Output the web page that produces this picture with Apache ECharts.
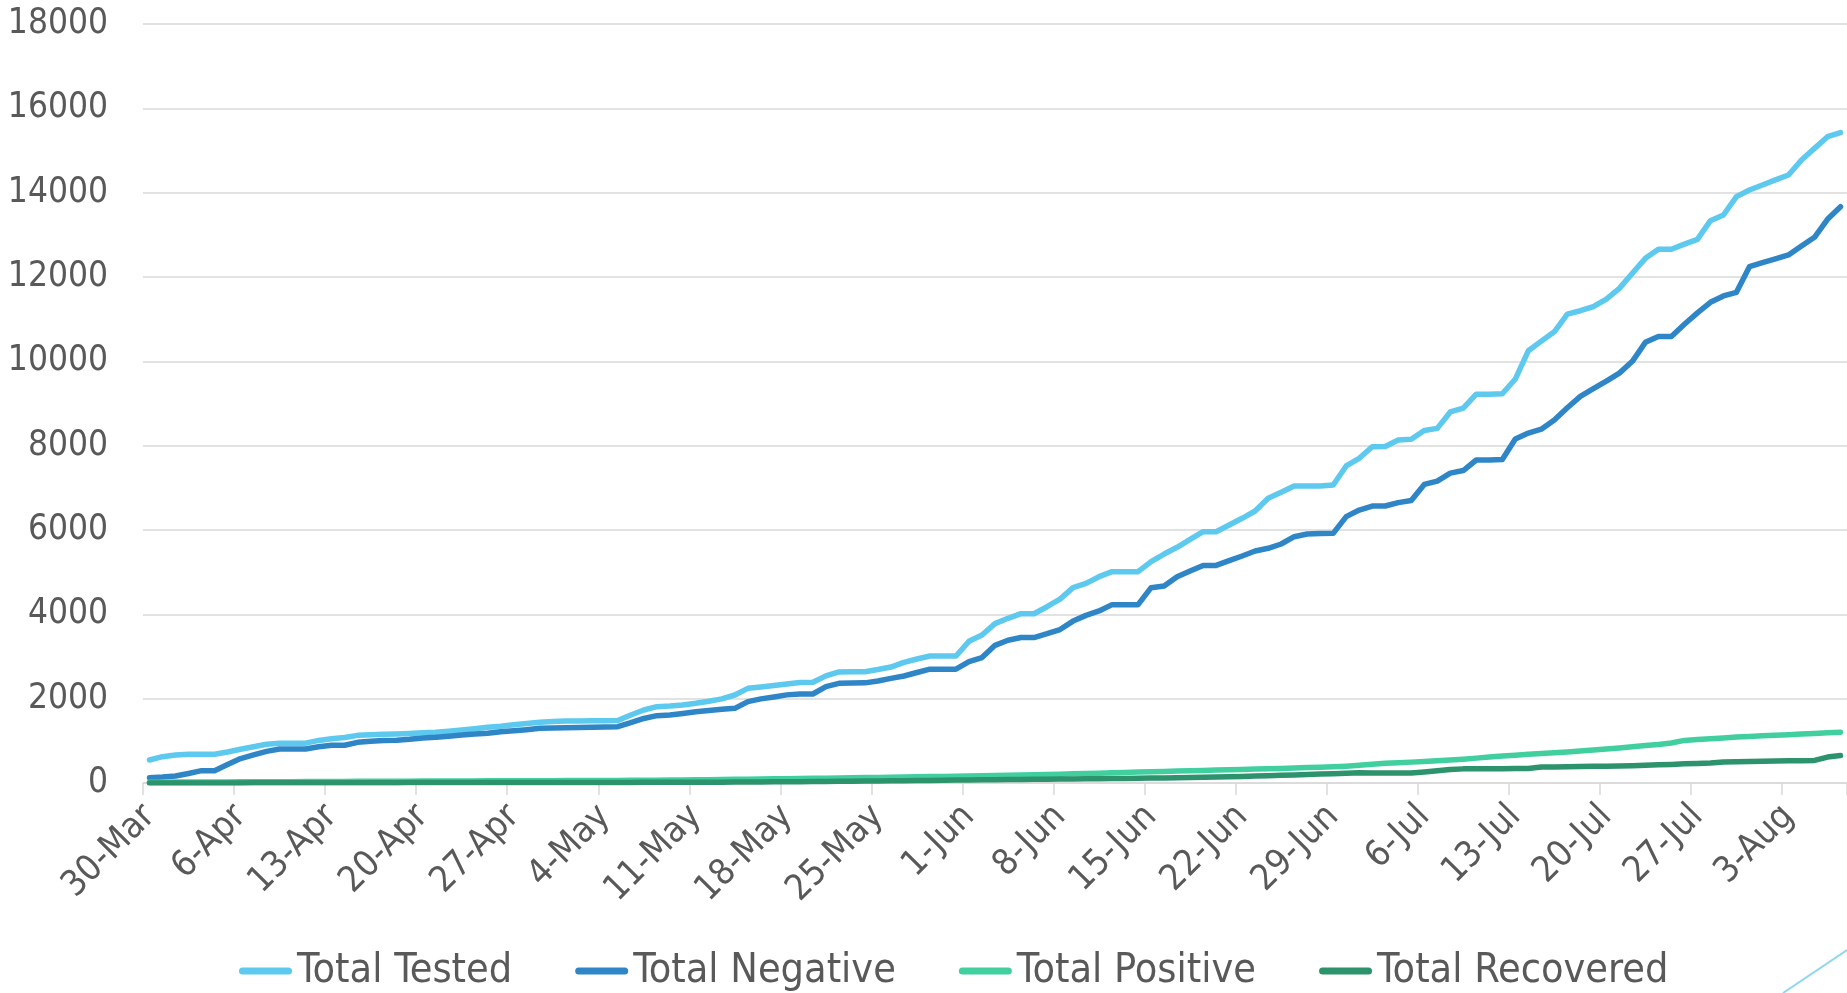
<!DOCTYPE html>
<html>
<head>
<meta charset="utf-8">
<script src="https://cdn.jsdelivr.net/npm/echarts@6/dist/echarts.min.js"></script>
<style>
html,body{margin:0;padding:0;background:#fff;overflow:hidden;}
#chart{width:1847px;height:993px;}
</style>
</head>
<body>
<div id="chart"></div>
<script>
const categories = [
"30-Mar","31-Mar",
"1-Apr","2-Apr","3-Apr","4-Apr","5-Apr","6-Apr","7-Apr","8-Apr","9-Apr","10-Apr","11-Apr","12-Apr","13-Apr","14-Apr","15-Apr","16-Apr","17-Apr","18-Apr","19-Apr","20-Apr","21-Apr","22-Apr","23-Apr","24-Apr","25-Apr","26-Apr","27-Apr","28-Apr","29-Apr","30-Apr",
"1-May","2-May","3-May","4-May","5-May","6-May","7-May","8-May","9-May","10-May","11-May","12-May","13-May","14-May","15-May","16-May","17-May","18-May","19-May","20-May","21-May","22-May","23-May","24-May","25-May","26-May","27-May","28-May","29-May","30-May","31-May",
"1-Jun","2-Jun","3-Jun","4-Jun","5-Jun","6-Jun","7-Jun","8-Jun","9-Jun","10-Jun","11-Jun","12-Jun","13-Jun","14-Jun","15-Jun","16-Jun","17-Jun","18-Jun","19-Jun","20-Jun","21-Jun","22-Jun","23-Jun","24-Jun","25-Jun","26-Jun","27-Jun","28-Jun","29-Jun","30-Jun",
"1-Jul","2-Jul","3-Jul","4-Jul","5-Jul","6-Jul","7-Jul","8-Jul","9-Jul","10-Jul","11-Jul","12-Jul","13-Jul","14-Jul","15-Jul","16-Jul","17-Jul","18-Jul","19-Jul","20-Jul","21-Jul","22-Jul","23-Jul","24-Jul","25-Jul","26-Jul","27-Jul","28-Jul","29-Jul","30-Jul","31-Jul",
"1-Aug","2-Aug","3-Aug","4-Aug","5-Aug","6-Aug","7-Aug"
];

const totalTested = [
545,624,665,680,680,682,735,800,860,920,
940,940,945,1010,1050,1080,1130,1145,1155,1162,
1175,1190,1205,1230,1255,1285,1320,1345,1380,1410,
1440,1460,1470,1472,1474,1476,1480,1613,1731,1810,
1826,1850,1890,1940,1995,2087,2245,2275,2310,2348,
2385,2390,2540,2635,2640,2640,2690,2750,2860,2940,
3012,3012,3012,3360,3510,3780,3906,4015,4015,4180,
4360,4632,4735,4893,5012,5012,5012,5249,5430,5590,
5779,5960,5960,6119,6277,6451,6752,6894,7044,7044,
7044,7067,7518,7700,7976,7980,8135,8150,8360,8410,
8800,8890,9220,9220,9230,9580,10250,10480,10700,11120,
11200,11300,11478,11731,12090,12443,12657,12657,12780,12894,
13336,13471,13905,14064,14183,14302,14420,14775,15050,15328,
15423
];

const totalNegative = [
127,140,165,225,292,292,440,580,665,750,
805,805,806,860,893,895,965,990,1008,1015,
1035,1065,1083,1110,1140,1162,1180,1217,1240,1265,
1296,1302,1308,1314,1320,1328,1336,1430,1530,1597,
1613,1650,1691,1720,1748,1771,1930,1995,2040,2090,
2111,2111,2284,2364,2370,2375,2419,2480,2538,2620,
2700,2700,2700,2877,2975,3265,3385,3450,3450,3540,
3640,3840,3975,4080,4230,4230,4230,4632,4672,4893,
5030,5160,5160,5275,5384,5502,5566,5668,5841,5905,
5915,5921,6316,6474,6569,6569,6650,6700,7080,7160,
7350,7410,7660,7660,7670,8160,8300,8390,8610,8900,
9170,9350,9530,9720,10000,10450,10590,10590,10880,11150,
11400,11550,11637,12245,12340,12430,12522,12736,12941,13368,
13668
];

const totalPositive = [
20,20,22,23,24,24,25,27,28,30,
31,32,33,35,37,38,40,41,42,43,
44,46,47,48,49,50,51,52,53,54,
55,56,57,58,59,60,62,64,66,68,
70,72,75,78,82,86,90,94,98,102,
106,110,115,120,124,128,132,137,142,147,
152,157,162,167,173,180,186,192,198,204,
210,218,226,234,242,250,258,266,274,282,
290,298,306,314,322,330,338,346,355,365,
375,385,400,420,445,468,480,495,510,525,
545,565,590,615,640,660,680,700,715,735,
760,785,805,830,860,890,915,950,1010,1030,
1050,1070,1090,1105,1120,1135,1145,1160,1175,1190,
1205
];

const totalRecovered = [
0,0,0,0,1,1,2,2,3,3,
4,4,5,5,6,6,7,7,8,8,
9,9,9,10,10,10,11,11,11,12,
12,12,13,13,13,14,14,14,15,15,
15,16,16,18,20,22,24,26,28,30,
32,34,37,40,43,46,49,52,55,58,
62,66,70,73,76,79,82,85,88,91,
94,97,100,103,106,109,112,116,120,125,
130,135,140,148,156,165,174,183,192,202,
212,222,232,242,235,235,236,236,260,290,
320,335,340,340,340,341,342,378,382,386,
390,395,400,405,412,420,430,440,455,465,
475,500,505,510,515,520,525,530,535,615,
650
];

const yTicks = { min: 0, max: 18000, interval: 2000 };
const seriesNames = ["Total Tested","Total Negative","Total Positive","Total Recovered"];
const seriesColors = ["#5DC9EF","#2E86C7","#41CFA0","#2D936C"];
const seriesData = [totalTested, totalNegative, totalPositive, totalRecovered];

const FONT = '"DejaVu Sans Condensed", "Liberation Sans", sans-serif';
const TXT = '#595959';
const GRID = '#D9D9D9';

const chart = echarts.init(document.getElementById('chart'), null, {renderer:'canvas'});
chart.setOption({
  animation: false,
  backgroundColor: '#ffffff',
  textStyle: { fontFamily: FONT },
  grid: { left: 143, top: 24, width: 1710.3, height: 759, containLabel: false },
  legend: {
    data: seriesNames,
    left: 239, top: 949, padding: 0,
    itemWidth: 53, itemHeight: 7, itemGap: 63,
    icon: 'path://M3.5 0H49.5A3.5 3.5 0 0 1 49.5 7H3.5A3.5 3.5 0 0 1 3.5 0Z',
    textStyle: { fontFamily: FONT, fontSize: 41, color: TXT, lineHeight: 44 }
  },
  xAxis: {
    type: 'category',
    data: categories,
    boundaryGap: true,
    axisLine: { show: true, lineStyle: { color: GRID, width: 1.5 } },
    axisTick: { show: true, interval: 6, length: 12, lineStyle: { color: GRID, width: 1.5 } },
    axisLabel: { interval: 6, rotate: 45, fontSize: 36, color: TXT, fontFamily: FONT,
                 margin: 28, verticalAlign: 'middle', padding: [0, 0, 12, 0] },
    splitLine: { show: false }
  },
  yAxis: {
    type: 'value',
    min: yTicks.min, max: yTicks.max, interval: yTicks.interval,
    axisLine: { show: false },
    axisTick: { show: false },
    axisLabel: { fontSize: 35, color: TXT, fontFamily: FONT, margin: 35,
                 formatter: function (v) { return String(v); } },
    splitLine: { show: true, lineStyle: { color: GRID, width: 1.5 } }
  },
  graphic: [{
    type: 'line', silent: true,
    shape: { x1: 1783, y1: 993, x2: 1847, y2: 950 },
    style: { stroke: '#8DD7F2', lineWidth: 2 }
  }],
  series: seriesNames.map((n, i) => ({
    name: n,
    type: 'line',
    data: seriesData[i],
    color: seriesColors[i],
    showSymbol: false,
    symbol: 'none',
    smooth: false,
    lineStyle: { width: 5.5, color: seriesColors[i], cap: 'round', join: 'round' },
    z: 2 + i
  }))
});
</script>
</body>
</html>
